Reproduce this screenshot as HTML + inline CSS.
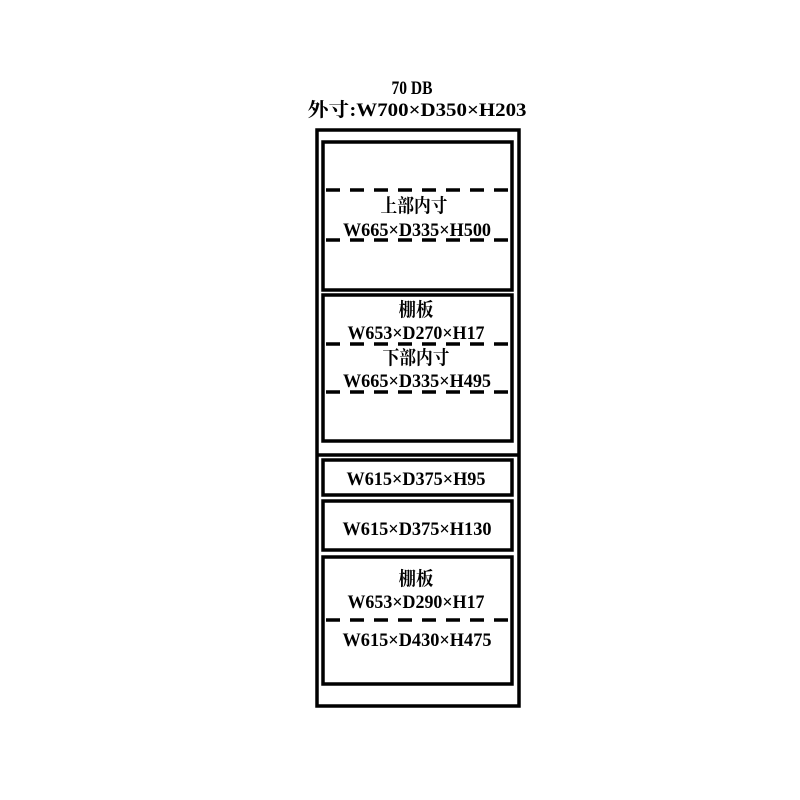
<!DOCTYPE html>
<html><head><meta charset="utf-8"><style>
html,body{margin:0;padding:0;background:#fff;}
svg{display:block}
text{font-family:"Liberation Serif","Noto Serif CJK SC",serif;font-weight:bold;fill:#000;}
</style></head><body>
<svg width="800" height="800" viewBox="0 0 800 800" xmlns="http://www.w3.org/2000/svg">
<g fill="none" stroke="#000" stroke-width="3.5">
<rect x="317" y="130" width="202" height="576"/>
<rect x="323" y="142" width="189" height="148"/>
<rect x="323" y="295" width="189" height="146"/>
<line x1="317" y1="455" x2="519" y2="455"/>
<rect x="323" y="460" width="189" height="35"/>
<rect x="323" y="501" width="189" height="49"/>
<rect x="323" y="557" width="189" height="127"/>
</g>
<g stroke="#000" stroke-width="3.5" stroke-dasharray="14,10">
<line x1="326" y1="190" x2="517" y2="190"/>
<line x1="326" y1="240" x2="517" y2="240"/>
<line x1="326" y1="344" x2="517" y2="344"/>
<line x1="326" y1="392" x2="517" y2="392"/>
<line x1="326" y1="620" x2="517" y2="620"/>
</g>
<g font-size="19" text-anchor="middle">
<text x="412" y="94" textLength="41" lengthAdjust="spacingAndGlyphs">70 DB</text>
<text x="417" y="116" textLength="219" lengthAdjust="spacingAndGlyphs">外寸:W700×D350×H203</text>
<text x="414" y="212" textLength="67" lengthAdjust="spacingAndGlyphs">上部内寸</text>
<text x="417" y="236" textLength="148" lengthAdjust="spacingAndGlyphs">W665×D335×H500</text>
<text x="416" y="316" textLength="35" lengthAdjust="spacingAndGlyphs">棚板</text>
<text x="416" y="339" textLength="137" lengthAdjust="spacingAndGlyphs">W653×D270×H17</text>
<text x="416" y="364" textLength="67" lengthAdjust="spacingAndGlyphs">下部内寸</text>
<text x="417" y="387" textLength="148" lengthAdjust="spacingAndGlyphs">W665×D335×H495</text>
<text x="416" y="485" textLength="139" lengthAdjust="spacingAndGlyphs">W615×D375×H95</text>
<text x="417" y="535" textLength="149" lengthAdjust="spacingAndGlyphs">W615×D375×H130</text>
<text x="416" y="585" textLength="35" lengthAdjust="spacingAndGlyphs">棚板</text>
<text x="416" y="608" textLength="137" lengthAdjust="spacingAndGlyphs">W653×D290×H17</text>
<text x="417" y="646" textLength="149" lengthAdjust="spacingAndGlyphs">W615×D430×H475</text>
</g>
</svg>
</body></html>
